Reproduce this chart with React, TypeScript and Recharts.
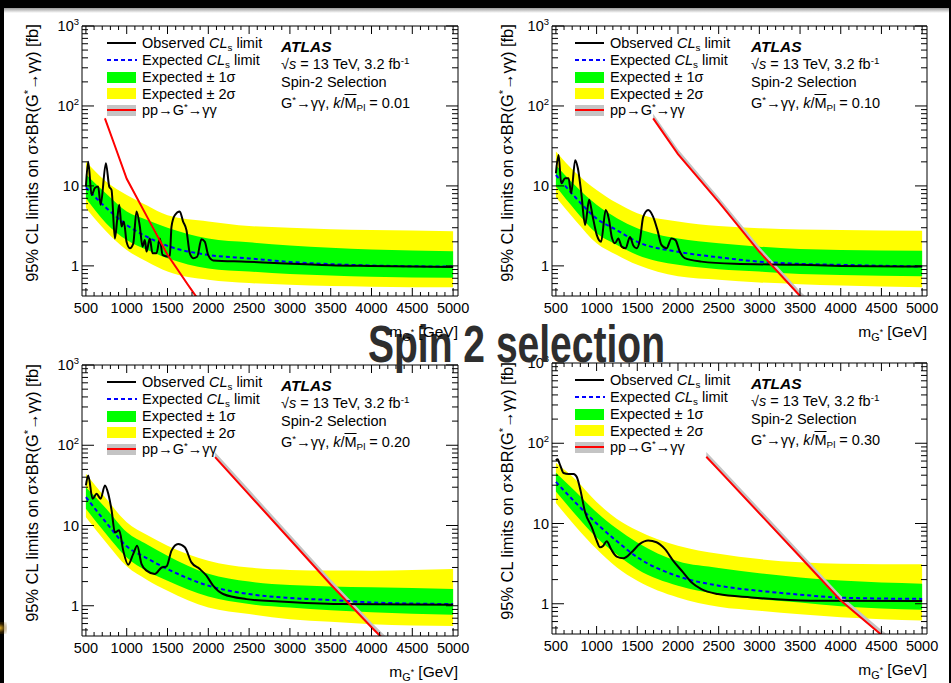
import React from 'react';
import { ComposedChart, Line, Area, XAxis, YAxis } from 'recharts';

const FONT = '"Liberation Sans", Arial, Helvetica, sans-serif';

// ---- axes / tick labels ----
const xMajorLabels = [500, 1000, 1500, 2000, 2500, 3000, 3500, 4000, 4500, 5000];
const yMajorLabels = [1, 10, 100, 1000];
const xDomain: [number, number] = [452, 5060];
const yDomain: [number, number] = [0.42, 1000];
const kValues = ['0.01', '0.10', '0.20', '0.30'];

// ---- expected limit grid (shared masses) ----
const expMass = [500, 750, 1000, 1250, 1500, 2000, 2500, 3000, 3500, 4000, 5000];

// panel 1 : k = 0.01
const exp1 = [9.6, 5.3, 3.25, 2.3, 1.78, 1.37, 1.24, 1.12, 1.05, 1.01, 0.98];
const up1s1 = [14, 8.0, 4.8, 3.76, 3.0, 2.2, 1.97, 1.8, 1.68, 1.6, 1.52];
const dn1s1 = [7.0, 3.4, 2.1, 1.58, 1.25, 0.93, 0.85, 0.79, 0.76, 0.73, 0.71];
const up2s1 = [20, 11.3, 7.7, 5.7, 4.3, 3.6, 3.16, 3.0, 2.87, 2.8, 2.72];
const dn2s1 = [5.3, 2.7, 1.58, 1.13, 0.85, 0.67, 0.61, 0.58, 0.56, 0.55, 0.54];
// panel 2 : k = 0.10
const exp2 = [13.7, 7.0, 3.9, 2.8, 2.0, 1.5, 1.28, 1.13, 1.06, 1.03, 0.98];
const up1s2 = [18.3, 9.8, 5.8, 3.95, 2.96, 2.2, 1.92, 1.74, 1.62, 1.58, 1.55];
const dn1s2 = [9.8, 4.8, 2.56, 1.83, 1.37, 1.03, 0.91, 0.85, 0.79, 0.77, 0.74];
const up2s2 = [27, 14.4, 8.9, 6.1, 4.55, 3.6, 3.16, 2.96, 2.85, 2.8, 2.74];
const dn2s2 = [7.2, 3.6, 1.92, 1.37, 1.03, 0.74, 0.67, 0.62, 0.59, 0.57, 0.54];
// panel 3 : k = 0.20
const exp3 = [22.6, 10.8, 5.5, 3.9, 2.87, 1.78, 1.4, 1.25, 1.18, 1.1, 1.05];
const up1s3 = [30, 16.2, 8.3, 5.8, 4.2, 2.5, 2.0, 1.81, 1.74, 1.7, 1.62];
const dn1s3 = [16.2, 7.8, 4.0, 2.7, 2.05, 1.3, 1.05, 0.95, 0.88, 0.83, 0.77];
const up2s3 = [44, 21.5, 11, 7.6, 5.6, 3.65, 3.0, 2.8, 2.75, 2.74, 2.87];
const dn2s3 = [12.7, 6.1, 3.1, 2.1, 1.54, 0.95, 0.79, 0.68, 0.63, 0.59, 0.56];
// panel 4 : k = 0.30
const exp4 = [33, 17.8, 10, 6.0, 3.8, 2.2, 1.68, 1.45, 1.3, 1.19, 1.15];
const up1s4 = [43, 24.6, 13.8, 8.6, 5.8, 3.38, 2.8, 2.4, 2.13, 1.95, 1.78];
const dn1s4 = [25, 12.6, 6.7, 4.1, 2.7, 1.68, 1.32, 1.14, 1.04, 0.93, 0.84];
const up2s4 = [57, 34.5, 18.5, 11.4, 8.2, 5.3, 4.2, 3.6, 3.28, 3.15, 3.1];
const dn2s4 = [18, 9.0, 4.8, 2.84, 1.94, 1.2, 0.92, 0.82, 0.74, 0.68, 0.62];

// ---- observed limits ----
const obsM1 = [500, 528, 570, 610, 650, 680, 745, 786, 814, 855, 883, 908, 937, 965, 998, 1039, 1080, 1120, 1161, 1194, 1222, 1243, 1283, 1316, 1365, 1406, 1439, 1496, 1528, 1549, 1589, 1650, 1690, 1732, 1773, 1814, 1863, 1916, 1957, 1998, 2059, 2467, 2875, 3500, 4000, 5000];
const obsV1 = [9.8, 20, 7.7, 9.4, 9.8, 5.8, 19.2, 9.8, 8.9, 2.2, 3.76, 5.8, 3.1, 3.6, 2.0, 1.66, 1.9, 4.8, 3.1, 1.74, 2.1, 1.51, 2.2, 1.44, 1.44, 2.2, 1.37, 1.31, 1.35, 3.1, 4.3, 4.8, 3.6, 2.8, 1.44, 1.25, 1.3, 2.15, 2.0, 1.37, 1.17, 1.13, 1.08, 1.02, 1.0, 0.97];
const obsM2 = [500, 533, 565, 614, 655, 688, 737, 770, 810, 859, 908, 949, 1002, 1055, 1112, 1153, 1186, 1226, 1267, 1308, 1357, 1410, 1451, 1491, 1532, 1573, 1634, 1695, 1748, 1797, 1859, 1920, 1969, 2022, 2083, 2287, 2695, 3500, 4000, 5000];
const obsV2 = [14.4, 24.4, 10.8, 12.5, 12.5, 8.1, 21, 16.6, 8.5, 3.25, 6.7, 4.3, 2.44, 2.0, 5.0, 3.76, 2.3, 1.92, 2.2, 1.74, 1.66, 2.3, 1.8, 1.66, 2.1, 4.1, 5.0, 4.1, 2.8, 1.83, 1.66, 2.2, 2.1, 1.51, 1.25, 1.13, 1.06, 1.03, 1.0, 0.98];
const obsM3 = [500, 528, 582, 631, 680, 733, 774, 815, 855, 908, 957, 1018, 1079, 1128, 1182, 1243, 1345, 1427, 1488, 1549, 1630, 1712, 1793, 1895, 1977, 2059, 2181, 2467, 2875, 3609, 5000];
const obsV3 = [31.6, 42, 21.5, 24.9, 21.5, 31.6, 24.9, 15.4, 8.2, 8.7, 4.87, 3.25, 4.4, 5.6, 3.3, 2.74, 2.49, 3.0, 3.1, 4.87, 5.9, 5.35, 3.47, 2.87, 2.37, 1.78, 1.4, 1.21, 1.13, 1.05, 1.03];
const obsM4 = [500, 520, 553, 594, 655, 717, 757, 798, 859, 940, 1002, 1042, 1083, 1124, 1177, 1247, 1329, 1430, 1532, 1634, 1736, 1838, 1940, 2063, 2165, 2287, 2491, 2899, 3633, 5000];
const obsV4 = [61, 63, 53, 42.6, 41.5, 41.5, 38, 27, 13.8, 9.0, 6.1, 5.06, 5.3, 6.0, 4.8, 3.87, 3.69, 4.38, 5.57, 6.13, 5.85, 4.82, 3.45, 2.46, 1.85, 1.52, 1.32, 1.2, 1.09, 1.08];

// ---- theory pp -> G* -> gg (central, low, high) ----
const thM1 = [733, 850, 1000, 1250, 1500, 1750, 1900];
const thV1 = [70, 32.7, 12.3, 4.1, 1.38, 0.58, 0.35];
const thLo1 = [68, 31.7, 11.9, 4.0, 1.34, 0.56, 0.34];
const thHi1 = [73, 34, 12.8, 4.3, 1.44, 0.6, 0.37];
const thM2 = [1695, 2000, 2500, 3000, 3500, 3650];
const thV2 = [70, 25, 6.3, 1.5, 0.42, 0.3];
const thLo2 = [68, 24.3, 6.1, 1.46, 0.41, 0.29];
const thHi2 = [80, 28.8, 7.2, 1.73, 0.48, 0.35];
const thM3 = [2083, 2500, 3000, 3500, 4000, 4250];
const thV3 = [71, 24.3, 6.7, 1.84, 0.54, 0.3];
const thLo3 = [69, 23.6, 6.5, 1.79, 0.52, 0.29];
const thHi3 = [82, 28, 7.7, 2.12, 0.62, 0.35];
const thM4 = [2348, 2500, 3000, 3500, 4000, 4500, 4650];
const thV4 = [68, 46.6, 13.4, 3.85, 1.1, 0.41, 0.31];
const thLo4 = [66, 45.2, 13.0, 3.73, 1.07, 0.40, 0.30];
const thHi4 = [78, 53.6, 15.4, 4.43, 1.27, 0.47, 0.36];

// ---- tick positions ----
const xTicks: number[] = [];
for (let m = 500; m <= 5000; m += 100) xTicks.push(m);
const yTicks: number[] = [];
[0.1, 1, 10, 100].forEach((dec) => {
  for (let k = 1; k <= 9; k++) {
    const v = +(dec * k).toPrecision(3);
    if (v >= yDomain[0]) yTicks.push(v);
  }
});
yTicks.push(1000);

const isMajorY = (v: number) => yMajorLabels.some((t) => Math.abs(t - v) < 1e-9);
const isMajorX = (v: number) => xMajorLabels.indexOf(v) >= 0;

const TICK_FS = 14.5;

const XTickBottom = (p: any) => {
  const { x, y, payload } = p;
  const v = payload.value;
  const major = isMajorX(v);
  return (
    <g>
      <line x1={x} x2={x} y1={y} y2={y - (major ? 8 : 4)} stroke="#000" strokeWidth={1} />
      {major && (
        <text x={x} y={y + 16.5} textAnchor="middle" fontSize={TICK_FS} fontFamily={FONT} fill="#000">
          {v}
        </text>
      )}
    </g>
  );
};
const XTickTop = (p: any) => {
  const { x, y, payload } = p;
  const major = isMajorX(payload.value);
  return <line x1={x} x2={x} y1={y} y2={y + (major ? 8 : 4)} stroke="#000" strokeWidth={1} />;
};
const YTickLeft = (p: any) => {
  const { x, y, payload } = p;
  const v = payload.value;
  const major = isMajorY(v);
  let label: React.ReactNode = null;
  if (major) {
    if (v >= 100) {
      label = (
        <>
          10<tspan dy={-6} fontSize={9.5}>{v === 100 ? '2' : '3'}</tspan>
        </>
      );
    } else label = String(v);
  }
  return (
    <g>
      <line x1={x} x2={x + (major ? 12 : 6)} y1={y} y2={y} stroke="#000" strokeWidth={1} />
      {major && (
        <text x={x - 3} y={y} dy="0.36em" textAnchor="end" fontSize={TICK_FS} fontFamily={FONT} fill="#000">
          {label}
        </text>
      )}
    </g>
  );
};
const YTickRight = (p: any) => {
  const { x, y, payload } = p;
  const major = isMajorY(payload.value);
  return <line x1={x} x2={x - (major ? 12 : 6)} y1={y} y2={y} stroke="#000" strokeWidth={1} />;
};

type PanelDef = {
  left: number; top: number; width: number; height: number;
  plotL: number; plotR: number; plotT: number; plotB: number;
  exp: number[]; up1: number[]; dn1: number[]; up2: number[]; dn2: number[];
  obsM: number[]; obsV: number[];
  thM: number[]; thV: number[]; thLo: number[]; thHi: number[];
  k: string; legDx: number;
};

const panels: PanelDef[] = [
  { left: 0, top: 0, width: 475, height: 340, plotL: 82, plotR: 458, plotT: 26, plotB: 296,
    exp: exp1, up1: up1s1, dn1: dn1s1, up2: up2s1, dn2: dn2s1, obsM: obsM1, obsV: obsV1,
    thM: thM1, thV: thV1, thLo: thLo1, thHi: thHi1, k: kValues[0], legDx: 25 },
  { left: 475, top: 0, width: 476, height: 340, plotL: 77, plotR: 452, plotT: 26, plotB: 296,
    exp: exp2, up1: up1s2, dn1: dn1s2, up2: up2s2, dn2: dn2s2, obsM: obsM2, obsV: obsV2,
    thM: thM2, thV: thV2, thLo: thLo2, thHi: thHi2, k: kValues[1], legDx: 23 },
  { left: 0, top: 340, width: 475, height: 343, plotL: 82, plotR: 458, plotT: 25, plotB: 296,
    exp: exp3, up1: up1s3, dn1: dn1s3, up2: up2s3, dn2: dn2s3, obsM: obsM3, obsV: obsV3,
    thM: thM3, thV: thV3, thLo: thLo3, thHi: thHi3, k: kValues[2], legDx: 25 },
  { left: 475, top: 340, width: 476, height: 343, plotL: 77, plotR: 452, plotT: 23, plotB: 294,
    exp: exp4, up1: up1s4, dn1: dn1s4, up2: up2s4, dn2: dn2s4, obsM: obsM4, obsV: obsV4,
    thM: thM4, thV: thV4, thLo: thLo4, thHi: thHi4, k: kValues[3], legDx: 23 },
];

const sup = (s: string) => (
  <span style={{ fontSize: '0.68em', verticalAlign: '0.55em', lineHeight: 0 }}>{s}</span>
);
const sub = (s: string) => (
  <span style={{ fontSize: '0.68em', verticalAlign: '-0.3em', lineHeight: 0 }}>{s}</span>
);

const Panel = ({ d }: { d: PanelDef }) => {
  const band = expMass.map((m, i) => ({ m, y2: [d.dn2[i], d.up2[i]], y1: [d.dn1[i], d.up1[i]], exp: d.exp[i] }));
  const obs = d.obsM.map((m, i) => ({ m, v: d.obsV[i] }));
  const th = d.thM.map((m, i) => ({ m, v: d.thV[i], b: [d.thLo[i], d.thHi[i]] }));
  const common = { type: 'number' as const, allowDataOverflow: true, interval: 0 as const, tickLine: false, tickSize: 0, tickMargin: 0, axisLine: { stroke: '#000', strokeWidth: 1 } };
  const fx = d.left + d.plotL;
  const fy = d.top + d.plotT;
  const rows = [17, 34, 51, 67.5, 84];
  const sx = fx + d.legDx;
  const tx = sx + 35;
  const textRow = (cy: number, content: React.ReactNode, extra: React.CSSProperties = {}) => (
    <div style={{ position: 'absolute', left: 0, top: cy - 9, height: 18, lineHeight: '18px', whiteSpace: 'nowrap', fontSize: 14.5, ...extra }}>{content}</div>
  );
  const ax = fx + 199;
  return (
    <>
      <div style={{ position: 'absolute', left: d.left, top: d.top }}>
        <ComposedChart width={d.width} height={d.height} margin={{ top: 0, right: 0, bottom: 0, left: 0 }}>
          <XAxis xAxisId="b" dataKey="m" orientation="bottom" height={d.height - d.plotB} domain={xDomain} ticks={xTicks} tick={(p: any) => <XTickBottom {...p} />} {...common} />
          <XAxis xAxisId="t" dataKey="m" orientation="top" height={d.plotT} domain={xDomain} ticks={xTicks} tick={(p: any) => <XTickTop {...p} />} {...common} />
          <YAxis yAxisId="l" orientation="left" scale="log" width={d.plotL} domain={yDomain} ticks={yTicks} tick={(p: any) => <YTickLeft {...p} />} {...common} />
          <YAxis yAxisId="r" orientation="right" scale="log" width={d.width - d.plotR} domain={yDomain} ticks={yTicks} tick={(p: any) => <YTickRight {...p} />} {...common} />
          <Area xAxisId="b" yAxisId="l" data={band} dataKey="y2" type="monotone" fill="#ffff00" fillOpacity={1} stroke="none" isAnimationActive={false} />
          <Area xAxisId="b" yAxisId="l" data={band} dataKey="y1" type="monotone" fill="#00ff00" fillOpacity={1} stroke="none" isAnimationActive={false} />
          <Line xAxisId="b" yAxisId="l" data={band} dataKey="exp" type="monotone" stroke="#0000ff" strokeWidth={2} strokeDasharray="4 3" dot={false} isAnimationActive={false} />
          <Line xAxisId="b" yAxisId="l" data={obs} dataKey="v" type="monotone" stroke="#000" strokeWidth={2} dot={false} isAnimationActive={false} />
          <Area xAxisId="b" yAxisId="l" data={th} dataKey="b" type="linear" fill="#c4c4c4" fillOpacity={1} stroke="none" isAnimationActive={false} />
          <Line xAxisId="b" yAxisId="l" data={th} dataKey="v" type="linear" stroke="#ff0000" strokeWidth={2} dot={false} isAnimationActive={false} />
          <Line xAxisId="t" yAxisId="r" data={band} dataKey="exp" stroke="none" dot={false} isAnimationActive={false} />
        </ComposedChart>
      </div>
      {/* legend samples */}
      <div style={{ position: 'absolute', left: sx, top: fy + rows[0] - 1, width: 29, height: 2, background: '#000' }} />
      <svg style={{ position: 'absolute', left: sx, top: fy + rows[1] - 2 }} width={30} height={4}>
        <line x1={0} y1={2} x2={30} y2={2} stroke="#0000ff" strokeWidth={2} strokeDasharray="4 3" />
      </svg>
      <div style={{ position: 'absolute', left: sx, top: fy + rows[2] - 5.5, width: 29, height: 11, background: '#00ff00' }} />
      <div style={{ position: 'absolute', left: sx, top: fy + rows[3] - 5.5, width: 29, height: 11, background: '#ffff00' }} />
      <div style={{ position: 'absolute', left: sx, top: fy + rows[4] - 5.5, width: 29, height: 11, background: '#c4c4c4' }} />
      <div style={{ position: 'absolute', left: sx, top: fy + rows[4] - 1, width: 29, height: 2, background: '#ff0000' }} />
      <div style={{ position: 'absolute', left: tx, top: fy }}>
        {textRow(rows[0], <>Observed <i>CL</i>{sub('s')} limit</>)}
        {textRow(rows[1], <>Expected <i>CL</i>{sub('s')} limit</>)}
        {textRow(rows[2], <>Expected ± 1σ</>)}
        {textRow(rows[3], <>Expected ± 2σ</>)}
        {textRow(rows[4], <>pp→G{sup('*')}→γγ</>)}
      </div>
      <div style={{ position: 'absolute', left: ax, top: fy }}>
        {textRow(21, <b><i>ATLAS</i></b>, { fontSize: 15.5 })}
        {textRow(37.5, <>√<i>s</i> = 13 TeV, 3.2 fb{sup('-1')}</>)}
        {textRow(56, <>Spin-2 Selection</>)}
        {textRow(77, <>G{sup('*')}→γγ, <i>k</i>/<span style={{ textDecoration: 'overline' }}>M</span>{sub('Pl')} = {d.k}</>)}
      </div>
      {/* y title */}
      <div style={{ position: 'absolute', left: d.left + 32, top: d.top + (d.plotT + d.plotB) / 2 - 8, width: 0, height: 0 }}>
        <div style={{ position: 'absolute', left: 0, top: 0, transform: 'translate(-50%, -50%) rotate(-90deg)', whiteSpace: 'nowrap', fontSize: 16.4, lineHeight: '18px' }}>
          95% CL limits on σ×BR(G{sup('*')}→γγ) [fb]
        </div>
      </div>
    </>
  );
};

const XTitle = ({ d }: { d: PanelDef }) => (
  <div style={{ position: 'absolute', left: d.left + d.plotR - 200, width: 200, top: d.top + d.plotB + 27, height: 18, lineHeight: '18px', textAlign: 'right', fontSize: 15.5, whiteSpace: 'nowrap' }}>
    m<span style={{ fontSize: '0.7em', verticalAlign: '-0.35em', lineHeight: 0 }}>G<span style={{ fontSize: '0.8em', verticalAlign: '0.7em' }}>*</span></span> [GeV]
  </div>
);

export default function App() {
  return (
    <div style={{ position: 'absolute', left: 0, top: 0, width: 951, height: 683, background: '#000', overflow: 'hidden', fontFamily: FONT, color: '#000' }}>
      <div style={{ position: 'absolute', left: 4, top: 8, width: 945, height: 675, background: '#fff' }} />
      <div style={{ position: 'absolute', left: 4, top: 8, width: 945, height: 5, background: 'linear-gradient(#9a9a9a, #fff)' }} />
      <div style={{ position: 'absolute', left: 0, top: 622, width: 7, height: 12, background: 'radial-gradient(ellipse at left, #d9a520 0%, rgba(120,80,0,0.4) 50%, rgba(0,0,0,0) 100%)' }} />
      {panels.map((d, i) => (
        <Panel key={i} d={d} />
      ))}
      <svg style={{ position: 'absolute', left: 0, top: 0 }} width={951} height={683}>
        <text x={368} y={362} textLength={297} lengthAdjust="spacingAndGlyphs" fontSize={51} fontWeight="bold" fontFamily='"Liberation Sans", Arial, sans-serif' fill="#2e2e2e">
          Spin 2 selection
        </text>
      </svg>
      {panels.map((d, i) => (
        <XTitle key={i} d={d} />
      ))}
    </div>
  );
}
